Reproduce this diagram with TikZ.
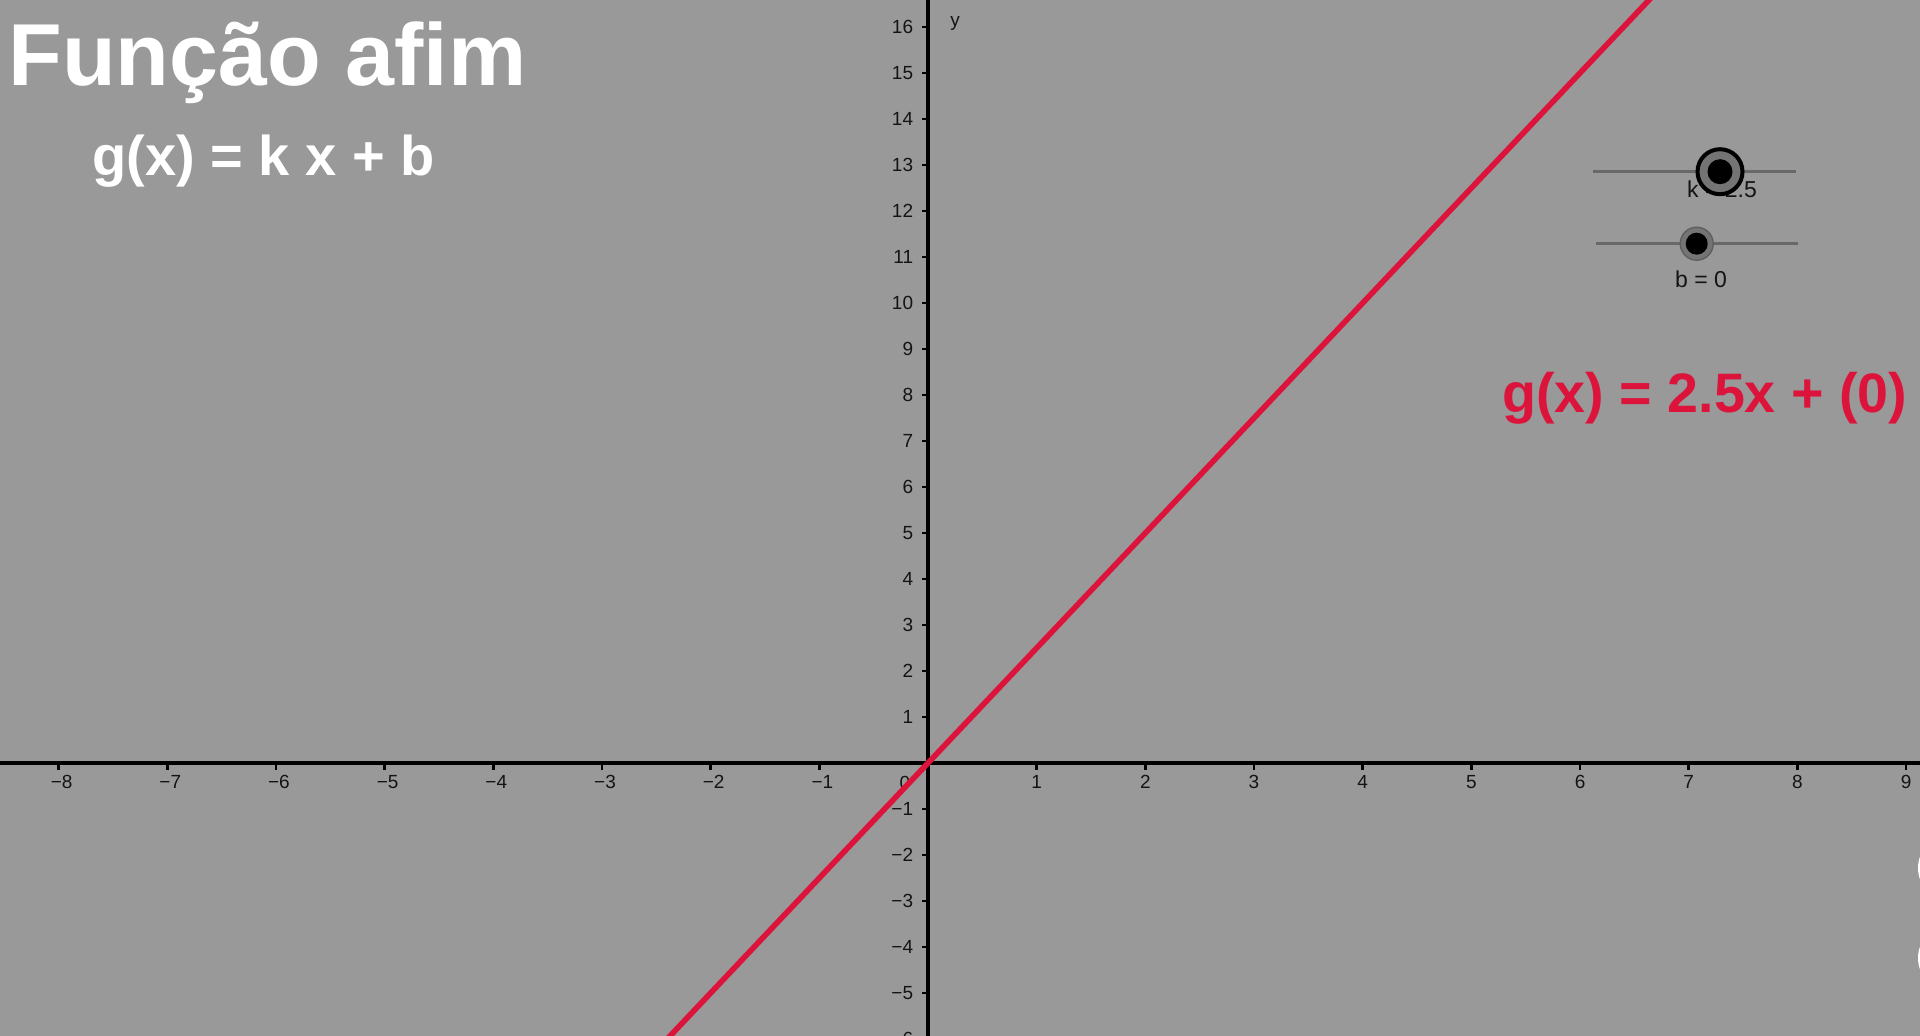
\documentclass[tikz,border=0pt]{standalone}
\usepackage{fontspec}
\setmainfont{Liberation Sans}
\definecolor{bggray}{RGB}{153,153,153}
\definecolor{crim}{RGB}{220,20,60}
\definecolor{slgray}{RGB}{104,104,104}
\definecolor{knobgray}{RGB}{116,116,116}
\definecolor{labdark}{RGB}{20,20,20}
\tikzset{
  axisline/.style={line width=1.8pt, black},
  tickmark/.style={line width=1.3pt, black},
  ticklab/.style={inner sep=0pt, text=labdark, font=\fontsize{9.5}{10}\selectfont},
  sliderline/.style={line width=1.5pt, slgray},
  sliderlab/.style={inner sep=0pt, text=labdark, font=\fontsize{11.5}{13}\selectfont},
  graphline/.style={line width=2.8pt, crim},
}
\def\ox{928}
\def\oy{763}
\def\ux{108.67}
\def\uy{46}
\begin{document}
\begin{tikzpicture}[x=0.5pt,y=-0.5pt]
\useasboundingbox (0,0) rectangle (1920,1036);
\clip (0,0) rectangle (1920,1036);
\fill[bggray] (0,0) rectangle (1920,1036);

% axes
\coordinate (xl) at (0,\oy);
\coordinate (xr) at (1920,\oy);
\coordinate (yt) at (\ox,0);
\coordinate (yb) at (\ox,1036);
\draw[axisline] (xl) -- (xr);
\draw[axisline] (yt) -- (yb);

% x ticks and labels
\foreach \i in {1,...,9} {
  \coordinate (xp\i) at ({\ox+\i*\ux},\oy);
  \draw[tickmark] (xp\i) -- ++(0,6.5);
  \node[ticklab] (lxp\i) at ({\ox+\i*\ux},782) {\i};
}
\foreach \i in {1,...,8} {
  \coordinate (xn\i) at ({\ox-\i*\ux},\oy);
  \draw[tickmark] (xn\i) -- ++(0,6.5);
  \node[ticklab] (lxn\i) at ({\ox-\i*\ux+3},782) {−\i};
}
% y ticks and labels
\foreach \j in {1,...,16} {
  \coordinate (yp\j) at (\ox,{\oy-\j*\uy});
  \draw[tickmark] (yp\j) -- ++(-6.5,0);
  \node[ticklab,anchor=east] (lyp\j) at (913.5,{\oy-\j*\uy}) {\j};
}
\foreach \j in {1,...,6} {
  \coordinate (yn\j) at (\ox,{\oy+\j*\uy});
  \draw[tickmark] (yn\j) -- ++(-6.5,0);
  \node[ticklab,anchor=east] (lyn\j) at (913.5,{\oy+\j*\uy}) {−\j};
}
\node[ticklab] (lorig) at (905,783) {0};
\node[ticklab,anchor=base] (ylab) at (955,27) {y};

% graph of g
\coordinate (gA) at ({\ox-(7/2.5)*\ux},{\oy+7*\uy});
\coordinate (gB) at ({\ox+(17.5/2.5)*\ux},{\oy-17.5*\uy});
\draw[graphline] (gA) -- (gB);

% texts
\node[anchor=base west, inner sep=0pt, text=white, font=\bfseries\fontsize{44}{48}\selectfont] (title) at (8,86) {Função afim};
\node[anchor=base west, inner sep=0pt, text=white, font=\bfseries\fontsize{28}{31}\selectfont] (formula) at (92,176) {g(x) = k x + b};
\node[anchor=base west, inner sep=0pt, text=crim, font=\bfseries\fontsize{27.8}{30}\selectfont] (gtext) at (1502,413) {g(x) = 2.5x + (0)};

% slider k
\coordinate (kL) at (1593,171.7);
\coordinate (kR) at (1796,171.7);
\draw[sliderline] (kL) -- (kR);
\node[sliderlab,anchor=base] (klab) at (1722,198) {k = 2.5};
\coordinate (kK) at (1720,171.7);
\fill[knobgray] (kK) circle (22);
\draw[black, line width=2pt] (kK) circle (22.5);
\fill[black] (kK) circle (12.5);

% slider b
\coordinate (bL) at (1596,243.7);
\coordinate (bR) at (1798,243.7);
\draw[sliderline] (bL) -- (bR);
\node[sliderlab,anchor=base] (blab) at (1701,288) {b = 0};
\coordinate (bK) at (1696.7,243.7);
\fill[knobgray, draw={rgb,255:red,95;green,95;blue,95}, line width=0.7pt] (bK) circle (16.5);
\fill[black] (bK) circle (11);

% partial white shapes at right edge
\fill[white] (1928,868) ellipse [x radius=10, y radius=19];
\fill[white] (1928,958) ellipse [x radius=10, y radius=19];
\end{tikzpicture}
\end{document}
